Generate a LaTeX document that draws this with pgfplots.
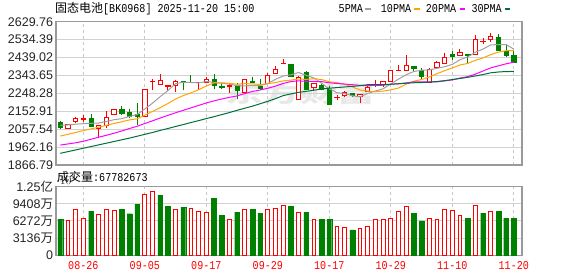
\documentclass[border=0pt]{standalone}
\usepackage{fontspec}
\usepackage{pgfplots}
\pgfplotsset{compat=1.18}
\setmainfont{Liberation Sans}
\newfontfamily\cjk{Noto Sans CJK SC}
\newfontfamily\mono[FakeStretch=0.84]{Liberation Mono}
\definecolor{upc}{HTML}{FF0000}
\definecolor{dnc}{HTML}{008000}
\definecolor{ma5}{HTML}{A0A0A0}
\definecolor{ma10}{HTML}{FFA500}
\definecolor{ma20}{HTML}{FF00FF}
\definecolor{ma30}{HTML}{00703A}
\definecolor{gridh}{HTML}{D2D2D2}
\definecolor{gridv}{HTML}{C8C8C8}
\definecolor{axc}{HTML}{9A9A9A}
\pgfplotsset{
  upwick/.style={draw=upc, line width=1bp},
  upbody/.style={draw=upc, fill=white, line width=1bp},
  dnwick/.style={draw=dnc, line width=1bp},
  dnbody/.style={draw=dnc, fill=dnc, line width=0.6bp},
}
% candle: #1 style prefix, #2 index, #3 open, #4 high, #5 low, #6 close
\newcommand\cndl[6]{%
  \pgfmathsetmacro\cxl{#2-0.28}\pgfmathsetmacro\cxr{#2+0.28}%
  \edef\cndltmp{\noexpand\addplot[#1wick] coordinates {(#2,#5) (#2,#4)};
    \noexpand\addplot[#1body] coordinates {(\cxl,#3) (\cxr,#3) (\cxr,#6) (\cxl,#6)} -- cycle;}%
  \cndltmp}
\newcommand\U[5]{\cndl{up}{#1}{#2}{#3}{#4}{#5}}
\newcommand\D[5]{\cndl{dn}{#1}{#2}{#3}{#4}{#5}}
\begin{document}
\begin{tikzpicture}
\path[use as bounding box] (0,0) rectangle (578bp,276bp);
\fill[white] (0,0) rectangle (578bp,276bp);
% title
\node[anchor=west, inner sep=0pt] at (55bp,267bp) {\fontsize{12bp}{14bp}\selectfont{\cjk 固态电池}{\mono [BK0968] 2025-11-20 15:00}};
% legend
\node[anchor=west, inner sep=0pt] at (338.5bp,267bp) {\mono\fontsize{12bp}{14bp}\selectfont 5PMA};
\draw[ma5, line width=2bp] (364.7bp,266.5bp) -- (370.7bp,266.5bp);
\node[anchor=west, inner sep=0pt] at (380.7bp,267bp) {\mono\fontsize{12bp}{14bp}\selectfont 10PMA};
\draw[ma10, line width=2bp] (413.7bp,266.5bp) -- (419.7bp,266.5bp);
\node[anchor=west, inner sep=0pt] at (425.7bp,267bp) {\mono\fontsize{12bp}{14bp}\selectfont 20PMA};
\draw[ma20, line width=2bp] (459.7bp,266.5bp) -- (465.2bp,266.5bp);
\node[anchor=west, inner sep=0pt] at (471.3bp,267bp) {\mono\fontsize{12bp}{14bp}\selectfont 30PMA};
\draw[ma30, line width=2bp] (504.7bp,266.5bp) -- (510.2bp,266.5bp);
% volume caption
\node[anchor=west, inner sep=0pt] at (57bp,99bp) {\fontsize{12bp}{14bp}\selectfont{\cjk 成交量}{\mono :67782673}};
% watermark
\node[text=black!9, inner sep=0pt, xscale=1.25, yscale=0.75] at (300bp,182bp) {\cjk\bfseries\fontsize{30bp}{32bp}\selectfont 东方财富};

\begin{axis}[
  at={(56bp,111bp)}, anchor=south west, scale only axis,
  width=466bp, height=143.3bp,
  xmin=-0.56, xmax=60.07, ymin=1866.79, ymax=2629.76,
  xtick={3,11,19,27,35,43,51,59}, xticklabels={},
  ytick={1866.79,1962.16,2057.54,2152.91,2248.28,2343.65,2439.02,2534.39,2629.76},
  yticklabels={1866.79,1962.16,2057.54,2152.91,2248.28,2343.65,2439.02,2534.39,2629.76},
  major tick length=0pt,
  xmajorgrids, ymajorgrids,
  major x grid style={draw=gridv, dash pattern=on 3bp off 3bp, line width=1bp},
  major y grid style={draw=gridh, line width=1bp},
  axis line style={draw=axc, line width=1.2bp},
  yticklabel style={font=\fontsize{12.5bp}{14bp}\selectfont, anchor=east, inner sep=0pt, xshift=-2.7bp, text=black!85},
  /pgf/number format/assume math mode=true,
]
\D{0}{2094.0}{2102.8}{2056.7}{2067.4}
\U{1}{2062.0}{2081.5}{2060.5}{2079.8}
\U{2}{2099.3}{2124.2}{2092.2}{2113.5}
\U{3}{2110.0}{2131.2}{2095.7}{2111.7}
\D{4}{2115.3}{2136.6}{2067.4}{2070.9}
\U{5}{2062.0}{2078.0}{2008.8}{2076.0}
\U{6}{2074.5}{2154.3}{2065.6}{2120.6}
\U{7}{2134.8}{2163.2}{2131.2}{2159.7}
\D{8}{2164.9}{2180.9}{2133.0}{2141.9}
\D{9}{2149.0}{2163.2}{2115.3}{2127.7}
\D{10}{2134.8}{2195.1}{2079.8}{2127.7}
\U{11}{2124.2}{2273.2}{2120.6}{2269.7}
\U{12}{2310.5}{2324.7}{2266.1}{2313.0}
\U{13}{2294.5}{2351.3}{2294.0}{2315.8}
\U{14}{2286.5}{2292.8}{2262.6}{2288.0}
\U{15}{2287.4}{2319.4}{2257.3}{2314.0}
\D{16}{2312.3}{2313.0}{2266.1}{2305.2}
\D{17}{2308.0}{2346.0}{2303.4}{2306.9}
\U{18}{2305.5}{2310.0}{2266.1}{2307.0}
\U{19}{2306.9}{2333.7}{2301.6}{2322.9}
\D{20}{2321.1}{2351.3}{2269.7}{2292.8}
\D{21}{2287.4}{2301.6}{2271.5}{2278.6}
\U{22}{2286.5}{2298.1}{2251.9}{2288.0}
\D{23}{2287.4}{2301.6}{2216.4}{2262.6}
\U{24}{2251.9}{2320.0}{2248.4}{2319.4}
\D{25}{2314.0}{2333.7}{2301.6}{2305.2}
\D{26}{2287.4}{2322.9}{2266.1}{2273.2}
\U{27}{2301.6}{2354.9}{2298.1}{2344.2}
\U{28}{2354.9}{2393.9}{2351.3}{2372.6}
\U{29}{2406.5}{2429.4}{2404.5}{2408.0}
\D{30}{2404.5}{2406.5}{2333.0}{2337.1}
\U{31}{2216.4}{2340.7}{2215.5}{2333.7}
\D{32}{2358.4}{2369.1}{2266.1}{2269.7}
\U{33}{2280.3}{2302.5}{2262.6}{2301.6}
\D{34}{2291.0}{2298.1}{2266.1}{2269.7}
\D{35}{2269.7}{2287.4}{2186.3}{2189.8}
\U{36}{2225.5}{2239.5}{2212.9}{2227.1}
\U{37}{2235.9}{2259.0}{2227.1}{2251.9}
\D{38}{2248.4}{2249.0}{2230.6}{2237.7}
\U{39}{2230.6}{2242.0}{2195.1}{2241.3}
\U{40}{2257.3}{2292.8}{2256.5}{2280.3}
\U{41}{2293.0}{2319.4}{2283.9}{2294.5}
\U{42}{2294.5}{2309.5}{2283.9}{2308.7}
\U{43}{2310.5}{2369.1}{2308.7}{2367.3}
\U{44}{2367.5}{2399.2}{2363.7}{2369.1}
\U{45}{2370.8}{2452.5}{2369.1}{2397.4}
\D{46}{2393.9}{2394.5}{2369.1}{2381.5}
\D{47}{2370.8}{2381.5}{2319.4}{2340.7}
\U{48}{2305.2}{2385.0}{2304.5}{2376.2}
\U{49}{2386.8}{2420.5}{2381.5}{2411.6}
\U{50}{2408.1}{2464.9}{2404.5}{2440.0}
\D{51}{2457.8}{2475.5}{2425.8}{2443.6}
\U{52}{2450.7}{2482.6}{2447.1}{2464.9}
\D{53}{2456.0}{2456.5}{2404.5}{2450.7}
\U{54}{2452.5}{2558.9}{2452.0}{2535.9}
\U{55}{2523.5}{2541.2}{2511.0}{2525.2}
\U{56}{2535.9}{2567.8}{2523.5}{2553.6}
\D{57}{2546.5}{2562.5}{2475.0}{2475.5}
\D{58}{2473.8}{2505.7}{2440.0}{2450.7}
\D{59}{2452.5}{2475.5}{2413.0}{2413.4}
% moving averages
\addplot[ma5, line width=1bp] coordinates {(0,2078) (1,2080) (2,2084) (3,2087) (4,2088.7) (5,2090.4) (6,2098.5) (7,2107.8) (8,2113.8) (9,2125.2) (10,2135.5) (11,2165.3) (12,2196.2) (13,2231.0) (14,2263.0) (15,2300.3) (16,2307.4) (17,2306.0) (18,2304.2) (19,2311.2) (20,2307.0) (21,2301.6) (22,2297.9) (23,2289.0) (24,2288.3) (25,2290.8) (26,2289.7) (27,2300.9) (28,2322.9) (29,2340.6) (30,2347.0) (31,2359.1) (32,2344.2) (33,2330.0) (34,2302.4) (35,2272.9) (36,2251.6) (37,2248.0) (38,2235.2) (39,2229.6) (40,2247.7) (41,2261.1) (42,2272.5) (43,2298.4) (44,2324.0) (45,2347.4) (46,2364.8) (47,2371.2) (48,2373.0) (49,2381.5) (50,2390.0) (51,2402.4) (52,2427.3) (53,2442.2) (54,2467.0) (55,2484.1) (56,2506.1) (57,2508.2) (58,2508.2) (59,2483.7)};
\addplot[ma10, line width=1bp] coordinates {(0,2021) (1,2030) (2,2040) (3,2050) (4,2059) (5,2068) (6,2078) (7,2088) (8,2097) (9,2107.0) (10,2113.0) (11,2131.9) (12,2152.0) (13,2172.4) (14,2194.1) (15,2217.9) (16,2236.4) (17,2251.1) (18,2267.6) (19,2287.1) (20,2303.7) (21,2304.5) (22,2302.0) (23,2296.6) (24,2299.8) (25,2298.9) (26,2295.7) (27,2299.4) (28,2306.0) (29,2314.5) (30,2318.9) (31,2324.4) (32,2322.6) (33,2326.5) (34,2321.5) (35,2310.0) (36,2305.4) (37,2296.1) (38,2282.6) (39,2266.0) (40,2260.3) (41,2256.4) (42,2260.3) (43,2266.8) (44,2276.8) (45,2297.6) (46,2313.0) (47,2321.9) (48,2335.7) (49,2352.8) (50,2368.7) (51,2383.6) (52,2399.3) (53,2407.6) (54,2424.3) (55,2437.1) (56,2454.3) (57,2467.8) (58,2475.2) (59,2475.4)};
\addplot[ma20, line width=1bp] coordinates {(0,1973) (1,1979) (2,1985) (3,1993) (4,2004) (5,2015) (6,2025) (7,2036) (8,2048) (9,2061) (10,2073) (11,2088) (12,2102) (13,2117) (14,2131) (15,2145) (16,2158) (17,2171) (18,2184) (19,2197.1) (20,2208.4) (21,2218.2) (22,2227.0) (23,2234.5) (24,2247.0) (25,2258.4) (26,2266.1) (27,2275.3) (28,2286.8) (29,2300.8) (30,2311.3) (31,2314.5) (32,2312.3) (33,2311.6) (34,2310.7) (35,2304.5) (36,2300.6) (37,2297.8) (38,2294.3) (39,2290.3) (40,2289.6) (41,2290.4) (42,2291.5) (43,2296.7) (44,2299.2) (45,2303.8) (46,2309.2) (47,2309.0) (48,2309.2) (49,2309.4) (50,2314.5) (51,2320.0) (52,2329.8) (53,2337.2) (54,2350.6) (55,2367.4) (56,2383.7) (57,2394.9) (58,2405.5) (59,2414.1)};
\addplot[ma30, line width=1bp] coordinates {(0,1929) (1,1938) (2,1947) (3,1956) (4,1965) (5,1974) (6,1983) (7,1992) (8,2001) (9,2010) (10,2020) (11,2030) (12,2040) (13,2051) (14,2061) (15,2072) (16,2082) (17,2093) (18,2103) (19,2114) (20,2124) (21,2135) (22,2146) (23,2158) (24,2169) (25,2180) (26,2193) (27,2206) (28,2220) (29,2236.2) (30,2245.2) (31,2253.6) (32,2258.9) (33,2265.2) (34,2271.8) (35,2275.6) (36,2279.2) (37,2282.2) (38,2285.4) (39,2289.2) (40,2294.3) (41,2295.1) (42,2295.0) (43,2296.7) (44,2299.4) (45,2302.2) (46,2304.7) (47,2305.8) (48,2308.1) (49,2311.1) (50,2316.0) (51,2321.5) (52,2327.4) (53,2333.6) (54,2340.9) (55,2348.3) (56,2357.6) (57,2362.0) (58,2364.5) (59,2364.7)};
\end{axis}

\begin{axis}[
  at={(56bp,20.7bp)}, anchor=south west, scale only axis,
  width=466bp, height=68.6bp,
  xmin=-0.56, xmax=60.07, ymin=0, ymax=12544,
  xtick={3,11,19,27,35,43,51,59},
  xticklabels={08-26,09-05,09-17,09-29,10-17,10-29,11-10,11-20},
  ytick={0,3136,6272,9408,12544},
  yticklabels={0,3136{\cjk 万},6272{\cjk 万},9408{\cjk 万},1.25{\cjk 亿}},
  major tick length=0pt,
  xmajorgrids, ymajorgrids,
  major x grid style={draw=gridv, dash pattern=on 3bp off 3bp, line width=1bp},
  major y grid style={draw=gridh, line width=1bp},
  axis line style={draw=axc, line width=1.2bp},
  yticklabel style={font=\fontsize{12.5bp}{14bp}\selectfont, anchor=east, inner sep=0pt, xshift=-2.7bp, text=black!85},
  xticklabel style={font=\mono\fontsize{12bp}{14bp}\selectfont, text=upc, anchor=center, inner sep=0pt, yshift=-10.7bp},
  /pgf/number format/assume math mode=true,
]
\addplot[ybar, bar width=0.5, bar shift=0pt, draw=upc, fill=white, line width=1bp] coordinates {(1,6272) (2,8464) (3,6820) (5,7551) (6,8464) (7,8282) (11,11145) (12,11693) (15,8404) (17,8587) (18,8039) (19,7856) (22,6577) (24,8404) (27,8404) (28,8587) (29,9135) (31,7916) (33,6455) (36,5298) (37,5115) (39,4811) (40,5298) (41,6455) (42,6455) (43,6820) (44,8099) (45,9012) (48,6820) (49,6637) (50,8464) (51,8282) (52,7368) (54,9195) (56,8099)};
\addplot[ybar, bar width=0.62, bar shift=0pt, draw=dnc, fill=dnc, line width=0.3bp] coordinates {(0,6637) (4,8099) (8,8464) (9,7612) (10,9378) (13,11023) (14,9013) (16,8830) (20,10475) (21,7369) (23,7917) (25,8465) (26,7734) (30,9013) (32,7916) (34,6637) (35,6637) (38,4628) (46,7733) (47,6272) (53,6820) (55,7733) (57,8099) (58,6820) (59,6778)};
\end{axis}
\end{tikzpicture}
\end{document}
